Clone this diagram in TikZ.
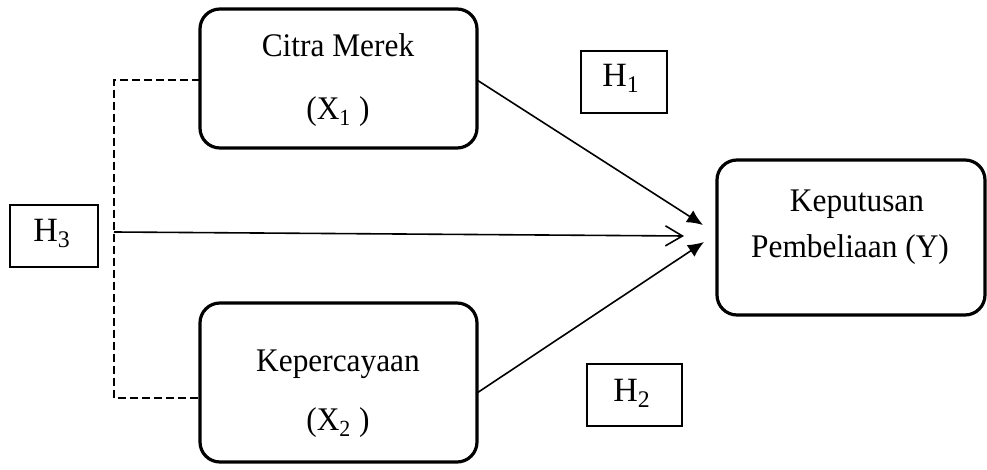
\documentclass[tikz,border=0pt]{standalone}
\usepackage{fontspec}
\usepackage{graphicx}
\setmainfont{Liberation Serif}
\usetikzlibrary{arrows.meta}
\newcommand{\sqz}[1]{\scalebox{0.95}[1]{#1}}
\begin{document}
\begin{tikzpicture}[x=0.5pt,y=-0.5pt,
  varbox/.style={draw=black,line width=1.6pt,rounded corners=10pt,inner sep=0pt},
  hbox/.style={draw=black,line width=1pt,inner sep=0pt,minimum width=44pt,minimum height=31pt},
  txt/.style={anchor=base,inner sep=0pt,font=\fontsize{16.5}{19}\selectfont},
  htxt/.style={anchor=base,inner sep=0pt,font=\fontsize{17}{20}\selectfont},
  conn/.style={line width=0.8pt},
  dashline/.style={line width=1pt,dash pattern=on 4pt off 2pt}]
\useasboundingbox (0,0) rectangle (987,470);
% variable boxes
\node[varbox,minimum width=138.5pt,minimum height=69.5pt] (c1) at (338.5,78.5) {};
\node[varbox,minimum width=138.5pt,minimum height=79.5pt] (c2) at (338.5,382.5) {};
\node[varbox,minimum width=134pt,minimum height=77.5pt] (y) at (851,237.5) {};
\node[txt] (c1a) at (338,57) {\sqz{Citra Merek}};
\node[txt] (c1b) at (338,120) {\sqz{(X\textsubscript{1} )}};
\node[txt] (c2a) at (338,372) {\sqz{Kepercayaan}};
\node[txt] (c2b) at (338,431) {\sqz{(X\textsubscript{2} )}};
\node[txt] (ya) at (857,212) {\sqz{Keputusan}};
\node[txt] (yb) at (850,258) {\sqz{Pembeliaan (Y)}};
% hypothesis boxes
\node[hbox,minimum width=43pt] (h1) at (624,82) {};
\node[hbox,minimum width=47.5pt] (h2) at (634.5,395.5) {};
\node[hbox] (h3) at (54,236) {};
\node[htxt] (h1t) at (621,87) {H\textsubscript{1}};
\node[htxt] (h2t) at (632,402) {H\textsubscript{2}};
\node[htxt] (h3t) at (52,242) {H\textsubscript{3}};
% coordinates
\coordinate (d1) at (200,80);
\coordinate (d2) at (200,398);
\coordinate (dt) at (114,80);
\coordinate (db) at (114,398);
\coordinate (dm) at (114,232);
\coordinate (s1) at (477,80);
\coordinate (s2) at (477,393);
\coordinate (t1) at (703,225);
\coordinate (t2) at (704,242);
\coordinate (t3) at (684,236);
% connectors
\draw[dashline] (d1) -- (dt) -- (db) -- (d2);
\draw[conn,-{Latex[length=8pt,width=7pt]}] (s1) -- (t1);
\draw[conn,-{Latex[length=8pt,width=7pt]}] (s2) -- (t2);
\draw[conn,-{Straight Barb[length=8.5pt,width=10pt,line width=0.8pt]}] (dm) -- (t3);
\end{tikzpicture}
\end{document}
